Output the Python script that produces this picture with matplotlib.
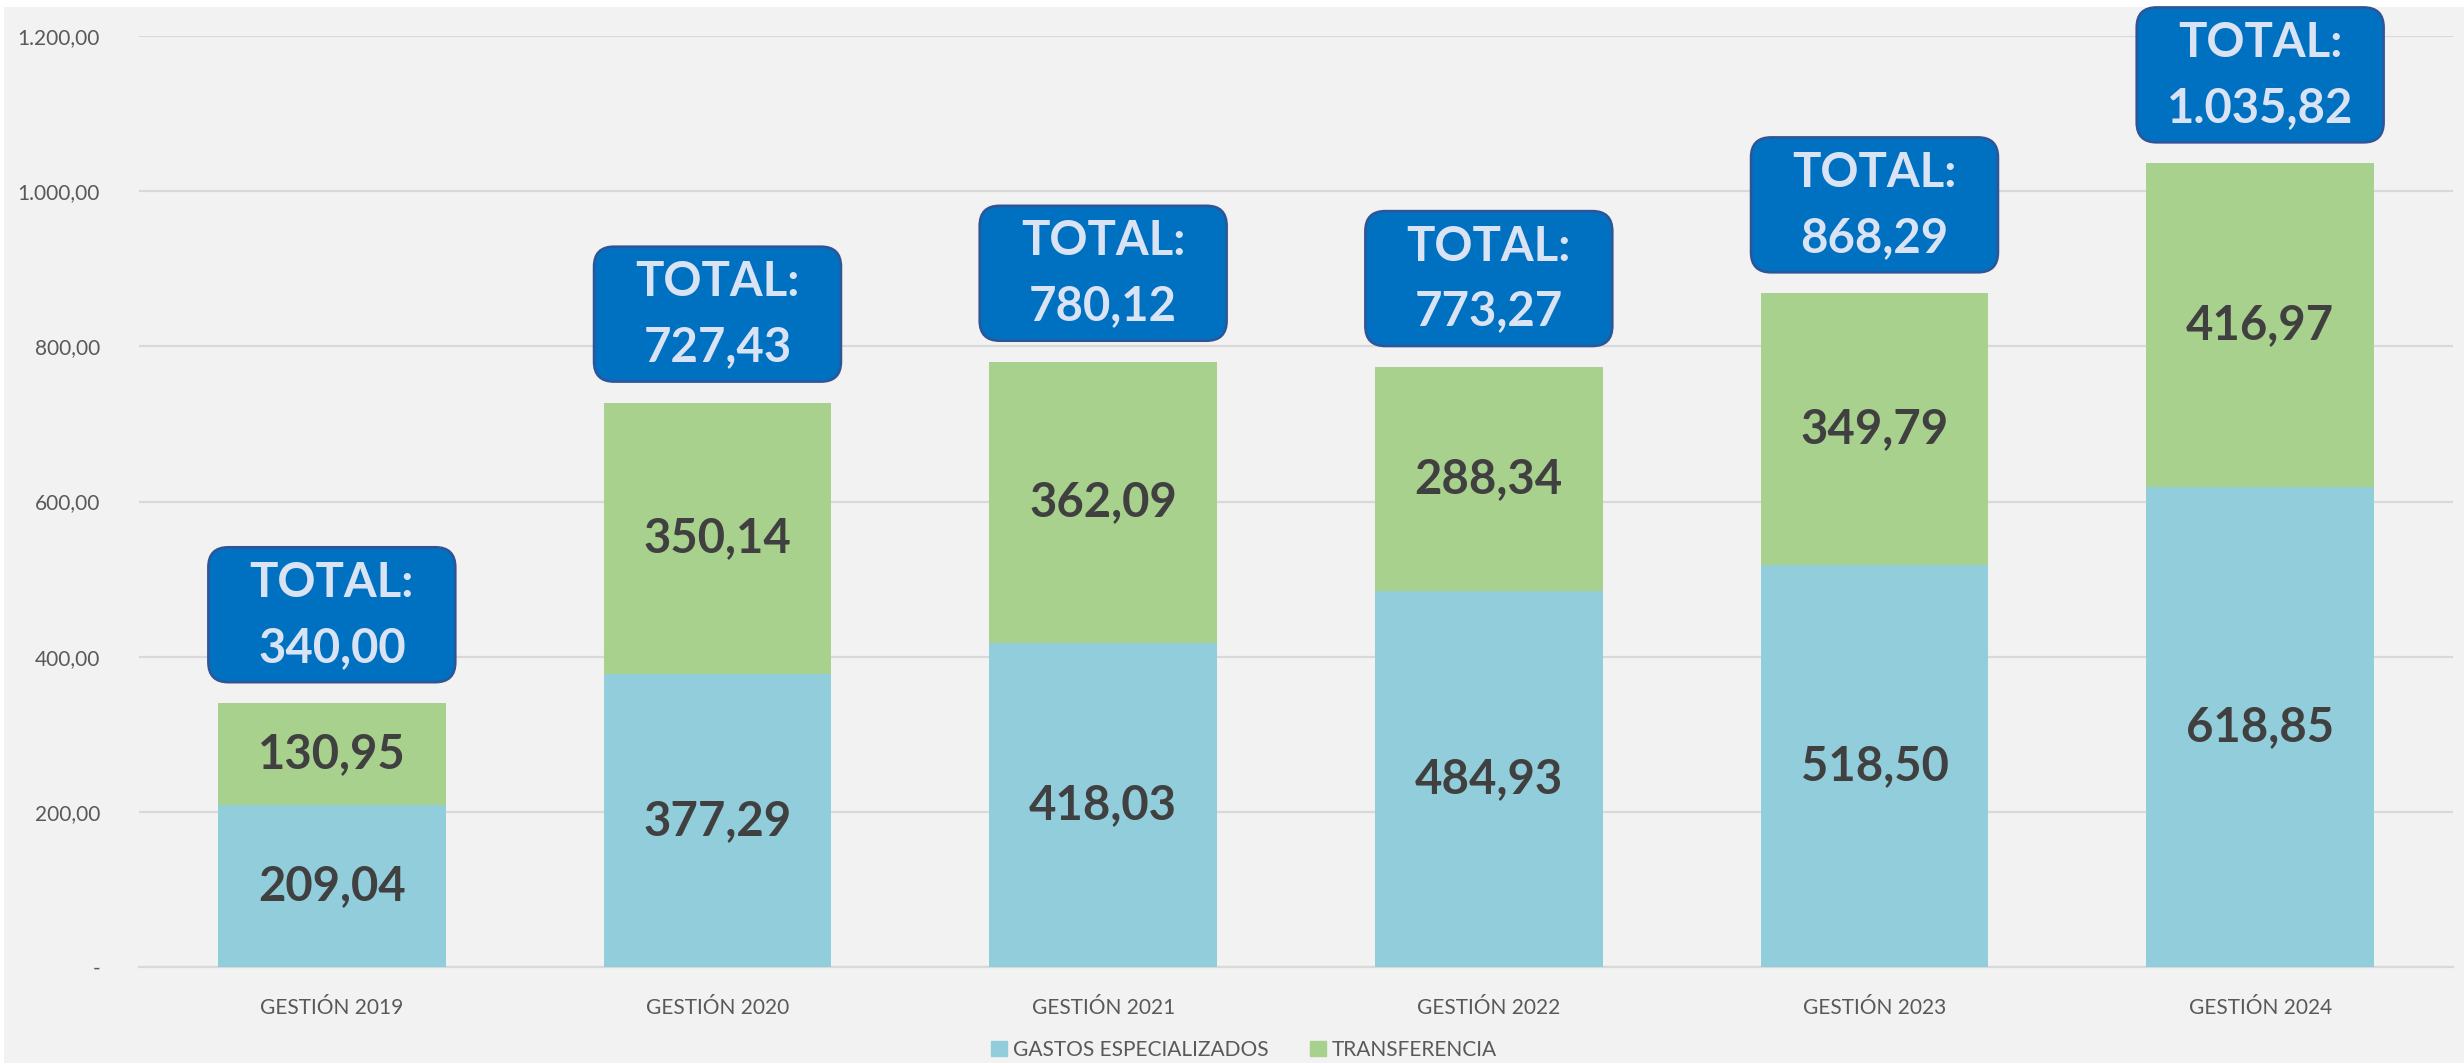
import matplotlib.pyplot as plt
from matplotlib.patches import FancyBboxPatch, Rectangle, Patch
import numpy as np

plt.rcParams['font.family'] = ['Lato', 'DejaVu Sans']

# data
categories = ['GESTIÓN 2019', 'GESTIÓN 2020', 'GESTIÓN 2021',
              'GESTIÓN 2022', 'GESTIÓN 2023', 'GESTIÓN 2024']
gastos = [209.04, 377.29, 418.03, 484.93, 518.50, 618.85]
transferencia = [130.95, 350.14, 362.09, 288.34, 349.79, 416.97]
totals = [340.00, 727.43, 780.12, 773.27, 868.29, 1035.82]
yticks = [0, 200, 400, 600, 800, 1000, 1200]

c_gastos = '#92CDDC'
c_transf = '#A9D18E'
bg = '#F2F2F2'
grid_c = '#D9D9D9'


def fmt(v):
    # spanish style number: 1.035,82
    s = f"{v:,.2f}"
    return s.replace(',', 'X').replace('.', ',').replace('X', '.')


W, H = 2464, 1063
fig = plt.figure(figsize=(W / 100, H / 100), dpi=100, facecolor='white')
fig.patches.append(Rectangle((4 / W, 0), 1, 1 - 7 / H, transform=fig.transFigure,
                             facecolor=bg, edgecolor='none', zorder=-10))

ax = fig.add_axes([139 / W, 96 / H, (2453 - 139) / W, (967 - 36) / H])
ax.set_facecolor('none')

x = np.arange(len(categories))
bw = 0.59
ax.bar(x, gastos, bw, color=c_gastos, zorder=3)
ax.bar(x, transferencia, bw, bottom=gastos, color=c_transf, zorder=3)

ax.set_xlim(-0.5, len(categories) - 0.5)
ax.set_ylim(0, 1200)
ax.set_yticks(yticks)
ax.set_yticklabels(['-' if t == 0 else fmt(t) for t in yticks])
ax.set_xticks(x)
ax.set_xticklabels(categories)
ax.tick_params(axis='both', length=0, labelsize=15, colors='#595959')
ax.tick_params(axis='y', pad=28)
ax.tick_params(axis='x', pad=22)
ax.grid(axis='y', color=grid_c, linewidth=1.6, zorder=0)
for s in ['top', 'right', 'left']:
    ax.spines[s].set_visible(False)
ax.spines['bottom'].set_color(grid_c)
ax.spines['bottom'].set_linewidth(1.6)

# segment labels
for i in range(len(categories)):
    ax.text(x[i], gastos[i] / 2, fmt(gastos[i]), ha='center', va='center',
            fontsize=34, fontweight='bold', color='#404040', zorder=5)
    ax.text(x[i], gastos[i] + transferencia[i] / 2, fmt(transferencia[i]),
            ha='center', va='center', fontsize=34, fontweight='bold',
            color='#404040', zorder=5)

# total callouts, fixed pixel size
px_x = ax.transData.transform((1, 0))[0] - ax.transData.transform((0, 0))[0]
px_y = ax.transData.transform((0, 1))[1] - ax.transData.transform((0, 0))[1]
box_w = 247 / px_x
box_h = 135 / px_y
gap = 21 / px_y
rad = 20 / px_x
for i, t in enumerate(totals):
    y0 = t + gap
    box = FancyBboxPatch((x[i] - box_w / 2, y0), box_w, box_h,
                         boxstyle=f'round,pad=0,rounding_size={rad}',
                         mutation_aspect=px_x / px_y,
                         facecolor='#0070C0', edgecolor='#2F5597',
                         linewidth=1.8, clip_on=False, zorder=6)
    ax.add_patch(box)
    yc = y0 + box_h / 2
    ax.text(x[i], yc + 32 / px_y, 'TOTAL:', ha='center', va='center',
            fontsize=34, fontweight='bold', color='#DAE3F3', zorder=7)
    ax.text(x[i], yc - 33 / px_y, fmt(t), ha='center', va='center',
            fontsize=34, fontweight='bold', color='#DAE3F3', zorder=7)

handles = [Patch(color=c_gastos, label='GASTOS ESPECIALIZADOS'),
           Patch(color=c_transf, label='TRANSFERENCIA')]
leg = fig.legend(handles=handles, loc='center', bbox_to_anchor=(1244 / W, 1 - 1050 / H),
                 ncol=2, frameon=False, fontsize=15, handlelength=0.75,
                 handleheight=0.75, handletextpad=0.3, columnspacing=2.0)
for txt in leg.get_texts():
    txt.set_color('#595959')

fig.savefig('out.png', dpi=100, facecolor=fig.get_facecolor())
